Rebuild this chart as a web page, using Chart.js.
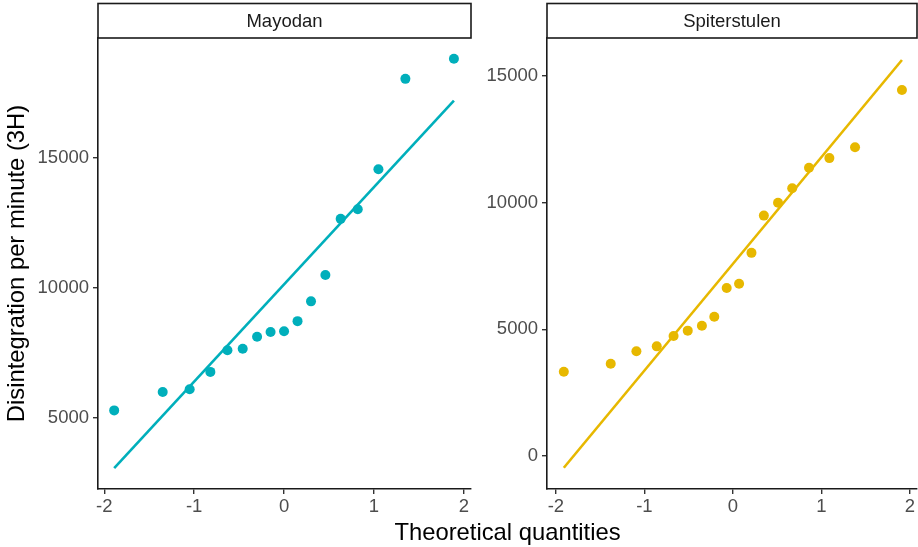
<!DOCTYPE html>
<html>
<head>
<meta charset="utf-8">
<title>QQ plots</title>
<script src="https://cdn.jsdelivr.net/npm/chart.js@4/dist/chart.umd.min.js"></script>
<style>
    body { margin: 0; background: #fff; }
    #wrap { position: relative; width: 918px; height: 547px; overflow: hidden; }
    .panel { position: absolute; top: 0; }
    #xTitle {
        position: absolute; left: 98px; width: 819px; top: 517px;
        text-align: center; font: 23.8px "Liberation Sans", Arial, sans-serif;
        color: #000; line-height: 30px;
    }
</style>
</head>
<body>
<div id="wrap">
    <div class="panel" style="left:0"><canvas id="mayodanChart" width="480" height="547"></canvas></div>
    <div class="panel" style="left:478px"><canvas id="spiterChart" width="444" height="547"></canvas></div>
    <div id="xTitle">Theoretical quantities</div>
</div>
<script>
// --- Data ---
const xTicks = [-2, -1, 0, 1, 2];

// Mayodan
const mayodanQ = [-1.89, -1.35, -1.05, -0.82, -0.63, -0.46, -0.30, -0.15, 0, 0.15, 0.30, 0.46, 0.63, 0.82, 1.05, 1.35, 1.89];
const mayodanDpm = [5290, 6000, 6100, 6770, 7600, 7660, 8120, 8300, 8330, 8720, 9480, 10490, 12650, 13020, 14560, 18030, 18800];
const mayodanLineQ = [-1.89, 1.89];
const mayodanLineDpm = [3070, 17190];
const mayodanTicks = [5000, 10000, 15000];

// Spiterstulen
const spiterQ = [-1.91, -1.38, -1.09, -0.86, -0.67, -0.51, -0.35, -0.21, -0.07, 0.07, 0.21, 0.35, 0.51, 0.67, 0.86, 1.09, 1.38, 1.91];
const spiterDpm = [3330, 3640, 4140, 4330, 4740, 4950, 5140, 5500, 6630, 6800, 8020, 9490, 10000, 10570, 11380, 11760, 12190, 14450];
const spiterLineQ = [-1.91, 1.91];
const spiterLineDpm = [-460, 15630];
const spiterTicks = [0, 5000, 10000, 15000];

const FONT = '"Liberation Sans", Arial, sans-serif';

// facet strip above the plot area
const stripPlugin = {
    id: 'strip',
    afterDraw(chart, args, opts) {
        const { ctx, chartArea } = chart;
        const top = 3.5;
        ctx.save();
        ctx.fillStyle = '#fff';
        ctx.strokeStyle = '#1a1a1a';
        ctx.lineWidth = 1.6;
        ctx.fillRect(chartArea.left, top, chartArea.right - chartArea.left, chartArea.top - top);
        ctx.strokeRect(chartArea.left, top, chartArea.right - chartArea.left, chartArea.top - top);
        ctx.fillStyle = '#1a1a1a';
        ctx.font = '18.5px ' + FONT;
        ctx.textAlign = 'center';
        ctx.textBaseline = 'middle';
        ctx.fillText(opts.text, (chartArea.left + chartArea.right) / 2, (top + chartArea.top) / 2 + 1);
        ctx.restore();
    }
};

function makePanel(id, cfg) {
    const ctx = document.getElementById(id).getContext('2d');
    return new Chart(ctx, {
        type: 'scatter',
        data: {
            datasets: [{
                type: 'line',
                data: cfg.lineX.map((x, i) => ({ x: x, y: cfg.lineY[i] })),
                borderColor: cfg.color,
                borderWidth: 2.6,
                pointRadius: 0,
                fill: false
            }, {
                data: cfg.x.map((x, i) => ({ x: x, y: cfg.y[i] })),
                backgroundColor: cfg.color,
                borderColor: cfg.color,
                borderWidth: 0,
                pointRadius: 5
            }]
        },
        options: {
            responsive: false,
            animation: false,
            devicePixelRatio: 1,
            layout: { padding: { top: 38, right: cfg.padRight, bottom: 0, left: 0 } },
            plugins: {
                legend: { display: false },
                tooltip: { enabled: false },
                strip: { text: cfg.title }
            },
            scales: {
                x: {
                    type: 'linear',
                    min: cfg.xMin,
                    max: 2.08,
                    afterBuildTicks: axis => { axis.ticks = xTicks.map(v => ({ value: v })); },
                    afterFit: axis => { axis.height = 58; },
                    grid: { display: true, drawOnChartArea: false, drawTicks: true, tickLength: 5, color: '#333', lineWidth: 1.4 },
                    border: { display: true, color: '#1a1a1a', width: 1.6 },
                    ticks: { color: '#4d4d4d', font: { size: 18.5, family: FONT }, padding: 2, maxRotation: 0,
                             callback: v => String(v) }
                },
                y: {
                    type: 'linear',
                    min: cfg.yMin,
                    max: cfg.yMax,
                    afterBuildTicks: axis => { axis.ticks = cfg.yTicks.map(v => ({ value: v })); },
                    afterFit: axis => { axis.width = cfg.yWidth; },
                    grid: { display: true, drawOnChartArea: false, drawTicks: true, tickLength: 5, color: '#333', lineWidth: 1.4 },
                    border: { display: true, color: '#1a1a1a', width: 1.6 },
                    ticks: { color: '#4d4d4d', font: { size: 18.5, family: FONT }, padding: 4,
                             callback: v => String(v) },
                    title: {
                        display: cfg.yTitle !== '',
                        text: cfg.yTitle,
                        color: '#000',
                        font: { size: 23.8, family: FONT },
                        padding: { top: 3, bottom: 0 }
                    }
                }
            }
        },
        plugins: [stripPlugin]
    });
}

makePanel('mayodanChart', {
    title: 'Mayodan', color: '#00AFBB',
    x: mayodanQ, y: mayodanDpm, lineX: mayodanLineQ, lineY: mayodanLineDpm,
    xMin: -2.07, yMin: 2270, yMax: 19600, yTicks: mayodanTicks,
    yWidth: 98, padRight: 9, yTitle: 'Disintegration per minute (3H)'
});

makePanel('spiterChart', {
    title: 'Spiterstulen', color: '#E7B800',
    x: spiterQ, y: spiterDpm, lineX: spiterLineQ, lineY: spiterLineDpm,
    xMin: -2.10, yMin: -1300, yMax: 16500, yTicks: spiterTicks,
    yWidth: 69, padRight: 1, yTitle: ''
});
</script>
</body>
</html>
